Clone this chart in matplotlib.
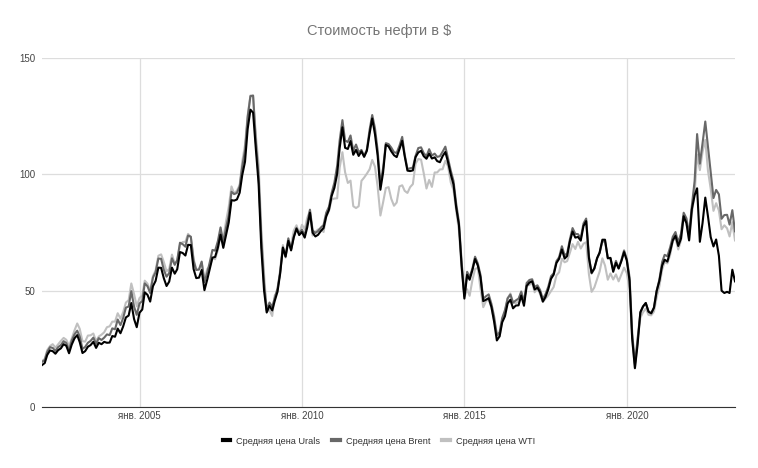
import matplotlib.pyplot as plt
import pandas as pd

plt.rcParams['font.family'] = ['Liberation Sans', 'DejaVu Sans']

# monthly averages, Jan 2002 .. May 2023
urals = [
    18.0, 18.9, 22.4, 24.3, 24.0, 22.9, 24.4, 25.2, 27.0, 26.3, 23.1, 26.8,
    29.5, 30.9, 27.9, 23.2, 24.0, 25.9, 26.6, 28.0, 25.4, 27.6, 27.0, 28.0,
    27.6, 27.7, 30.5, 30.2, 33.7, 31.7, 34.6, 38.5, 39.3, 44.7, 37.8, 34.3,
    40.5, 41.9, 49.3, 48.2, 45.3, 51.9, 54.2, 59.9, 59.8, 55.4, 52.0, 53.9,
    59.9, 57.3, 59.2, 66.6, 66.2, 65.1, 69.7, 69.6, 59.3, 55.4, 55.6, 58.9,
    50.2, 54.7, 59.2, 64.2, 64.5, 68.5, 74.1, 68.4, 74.0, 79.3, 88.9, 88.7,
    89.2, 92.1, 99.7, 105.4, 119.5, 127.8, 126.5, 110.8, 95.9, 68.4, 50.1, 40.6,
    43.5, 41.5, 45.6, 49.5, 57.3, 68.5, 64.6, 71.4, 67.3, 72.9, 76.6, 73.9,
    75.2, 72.8, 77.1, 83.5, 74.9, 73.3, 74.0, 75.6, 76.9, 81.9, 84.8, 90.7,
    94.2, 100.2, 111.3, 120.2, 111.4, 110.9, 114.3, 108.4, 110.5, 107.9, 109.9, 107.5,
    110.1, 117.6, 124.0, 117.2, 108.0, 93.4, 100.7, 112.7, 112.0, 109.9, 108.2, 107.4,
    110.8, 114.4, 107.8, 101.6, 101.4, 101.7, 107.4, 109.4, 110.1, 107.8, 106.7, 108.9,
    106.8, 107.3, 105.7, 105.2, 107.8, 109.6, 105.3, 100.0, 95.6, 85.7, 78.2, 60.6,
    46.6, 56.8, 54.7, 58.8, 63.6, 60.8, 55.8, 45.5, 46.1, 46.8, 43.0, 36.7,
    28.6, 30.4, 36.4, 39.0, 44.5, 46.1, 42.4, 43.6, 43.7, 47.9, 43.5, 52.0,
    53.5, 54.0, 50.5, 51.3, 49.3, 45.3, 47.3, 50.6, 55.1, 56.9, 61.9, 63.7,
    67.7, 63.8, 64.9, 71.1, 75.4, 72.8, 73.1, 71.5, 77.8, 79.9, 64.0, 57.7,
    59.6, 64.0, 66.4, 71.9, 71.9, 63.9, 64.1, 58.1, 62.0, 59.5, 62.7, 66.6,
    62.9, 54.2, 29.5, 16.7, 26.8, 40.8, 43.2, 44.7, 41.0, 40.3, 42.7, 49.8,
    54.2, 60.8, 63.3, 62.5, 66.7, 71.6, 73.6, 69.2, 72.4, 82.0, 79.0, 71.6,
    85.0, 91.0, 94.0, 71.0, 79.0, 90.0, 82.0, 73.0, 69.0, 72.0, 65.0, 50.0,
    49.0, 49.5, 49.0, 59.0, 54.0,
]
brent = [
    19.4, 20.2, 23.7, 25.7, 25.4, 24.1, 25.7, 26.6, 28.3, 27.5, 24.4, 28.5,
    31.2, 32.8, 30.3, 25.0, 25.8, 27.6, 28.4, 29.8, 27.1, 29.6, 28.8, 29.8,
    31.2, 30.9, 33.8, 33.4, 37.6, 35.2, 38.2, 42.7, 43.2, 49.8, 43.1, 39.6,
    44.5, 45.5, 53.1, 51.9, 49.0, 55.6, 57.9, 63.8, 63.7, 59.0, 56.0, 57.6,
    63.9, 61.1, 63.1, 70.6, 70.0, 68.9, 73.7, 73.2, 62.8, 58.9, 59.1, 62.5,
    53.7, 57.6, 62.1, 67.5, 67.2, 71.3, 77.2, 70.8, 77.1, 82.3, 92.5, 91.5,
    92.0, 94.8, 103.3, 110.2, 124.6, 133.6, 133.9, 113.9, 99.1, 72.8, 53.2, 41.6,
    44.9, 43.1, 46.8, 50.9, 57.9, 68.6, 64.9, 72.5, 67.7, 73.2, 77.0, 74.7,
    76.2, 73.8, 78.8, 84.8, 75.9, 74.8, 75.6, 77.1, 78.2, 83.5, 86.1, 92.0,
    96.5, 103.7, 114.6, 123.3, 114.5, 113.9, 116.7, 110.2, 112.8, 109.5, 110.5, 107.9,
    110.7, 119.3, 125.5, 119.8, 110.3, 95.9, 102.6, 113.4, 113.0, 111.5, 109.5, 109.2,
    112.3, 116.1, 108.5, 102.3, 102.6, 102.9, 107.9, 111.3, 111.6, 109.1, 107.8, 110.8,
    108.1, 108.9, 107.5, 107.8, 109.7, 111.9, 106.8, 101.6, 97.1, 87.4, 79.4, 62.3,
    47.8, 58.1, 55.9, 59.5, 64.6, 61.7, 56.8, 46.5, 47.6, 48.4, 44.3, 38.9,
    30.7, 32.2, 38.2, 41.6, 46.7, 48.3, 44.9, 45.8, 46.6, 49.5, 44.9, 53.3,
    54.6, 54.9, 51.6, 52.3, 50.3, 46.4, 48.5, 51.7, 56.2, 57.5, 62.7, 64.4,
    69.1, 65.2, 66.0, 72.1, 76.9, 74.4, 74.3, 72.5, 78.9, 81.0, 64.8, 57.4,
    59.4, 63.9, 66.1, 71.2, 71.1, 64.2, 63.9, 59.0, 62.8, 59.7, 63.2, 67.3,
    63.6, 55.7, 32.0, 18.4, 29.4, 40.3, 43.2, 44.7, 40.9, 40.2, 42.7, 49.9,
    54.8, 62.3, 65.4, 64.8, 68.5, 73.2, 75.2, 70.8, 74.5, 83.5, 81.1, 74.2,
    86.5, 97.1, 117.3, 104.6, 113.3, 122.7, 111.9, 100.5, 89.8, 93.3, 91.4, 80.9,
    82.5, 82.6, 78.4, 84.6, 75.5,
]
wti = [
    19.7, 20.7, 24.5, 26.2, 27.0, 25.5, 26.9, 28.4, 29.7, 28.9, 26.3, 29.4,
    32.9, 35.9, 33.6, 28.3, 28.1, 30.7, 30.8, 31.6, 28.3, 30.3, 31.1, 32.1,
    34.3, 34.7, 36.7, 36.7, 40.3, 38.0, 40.7, 44.9, 45.9, 53.1, 48.5, 43.3,
    46.8, 48.0, 54.3, 53.0, 49.8, 56.3, 58.7, 65.0, 65.6, 62.4, 58.3, 59.4,
    65.5, 61.6, 62.9, 69.7, 70.9, 71.0, 74.4, 73.0, 63.8, 58.9, 59.1, 62.0,
    54.5, 59.3, 60.4, 64.0, 63.5, 67.5, 74.1, 72.4, 79.9, 86.0, 94.8, 91.7,
    93.0, 95.4, 105.5, 112.6, 125.4, 133.9, 133.4, 116.7, 104.1, 76.6, 57.3, 41.1,
    41.7, 39.1, 47.9, 49.7, 59.0, 69.6, 64.2, 71.1, 69.5, 75.8, 78.1, 74.5,
    78.3, 76.4, 81.2, 84.3, 73.7, 75.3, 76.3, 76.6, 75.2, 81.9, 84.3, 89.2,
    89.6, 89.7, 102.9, 109.5, 100.9, 96.3, 97.3, 86.3, 85.5, 86.3, 97.2, 98.6,
    100.3, 102.2, 106.2, 103.3, 94.7, 82.3, 87.9, 94.1, 94.5, 89.5, 86.5, 87.9,
    94.8, 95.3, 92.9, 92.0, 94.5, 95.8, 104.6, 106.6, 106.3, 100.5, 93.9, 97.6,
    94.6, 100.8, 100.8, 102.1, 102.2, 105.8, 103.6, 96.5, 93.2, 84.4, 75.8, 59.3,
    47.2, 50.6, 47.8, 54.5, 59.3, 59.8, 50.9, 42.9, 45.5, 46.2, 42.7, 37.3,
    31.7, 30.3, 37.5, 40.8, 46.7, 48.8, 44.7, 44.7, 45.2, 49.8, 45.7, 52.0,
    52.5, 53.5, 49.3, 51.1, 48.5, 45.2, 46.6, 48.0, 49.8, 51.6, 56.6, 57.9,
    63.7, 62.2, 62.7, 66.3, 70.0, 67.9, 71.0, 68.1, 70.2, 70.8, 57.0, 49.5,
    51.4, 55.0, 58.2, 63.9, 60.8, 54.7, 57.4, 54.8, 57.0, 54.0, 57.0, 59.9,
    57.5, 50.5, 29.2, 16.6, 28.6, 38.3, 40.7, 42.3, 39.6, 39.4, 41.0, 47.0,
    52.0, 59.0, 62.3, 61.7, 65.2, 71.4, 72.5, 67.7, 71.6, 81.5, 79.2, 71.7,
    83.2, 91.6, 108.5, 101.8, 109.6, 114.8, 101.6, 93.7, 84.3, 87.6, 84.4, 76.4,
    78.1, 76.8, 73.3, 79.4, 71.6,
]
labels = ['Средняя цена Urals', 'Средняя цена Brent', 'Средняя цена WTI']
tick_years = [2005, 2010, 2015, 2020]

dates = pd.date_range('2002-01-01', periods=len(brent), freq='MS')

fig = plt.figure(figsize=(7.58, 4.68), dpi=100)
ax = fig.add_axes([42/758, 1-407/468, (735-42)/758, (407-58)/468])

ax.plot(dates, wti, color='#c0c0c0', lw=1.5, label=labels[2], zorder=3)
ax.plot(dates, brent, color='#686868', lw=1.5, label=labels[1], zorder=4)
ax.plot(dates, urals, color='#000000', lw=1.5, label=labels[0], zorder=5)

ax.set_xlim(dates[0], dates[-1])
ax.set_ylim(0, 150)
ax.set_yticks([0, 50, 100, 150])
ticks = [pd.Timestamp(year=y, month=1, day=1) for y in tick_years]
ax.set_xticks(ticks)
ax.set_xticklabels(['янв. %d' % y for y in tick_years])
ax.grid(True, color='#dddddd', lw=0.9, zorder=0)
for s in ['top', 'right', 'left']:
    ax.spines[s].set_visible(False)
ax.spines['bottom'].set_color('#333333')
ax.tick_params(length=0, labelsize=7, labelcolor='#444444')
ax.tick_params(axis='y', pad=5)
ax.tick_params(axis='x', pad=3)

fig.text(0.5, 1-31/468, 'Стоимость нефти в $', ha='center', va='center',
         fontsize=10.5, color='#757575')

h, l = ax.get_legend_handles_labels()
order = [2, 1, 0]
leg = fig.legend([h[i] for i in order], [l[i] for i in order], loc='center',
                 bbox_to_anchor=(379/758, 1-441/468), ncol=3, frameon=False,
                 fontsize=6.6, handlelength=0.8, handletextpad=0.7, columnspacing=1.3)
for line in leg.get_lines():
    line.set_linewidth(3)
for t in leg.get_texts():
    t.set_color('#333333')

fig.savefig('out.png', dpi=100)
